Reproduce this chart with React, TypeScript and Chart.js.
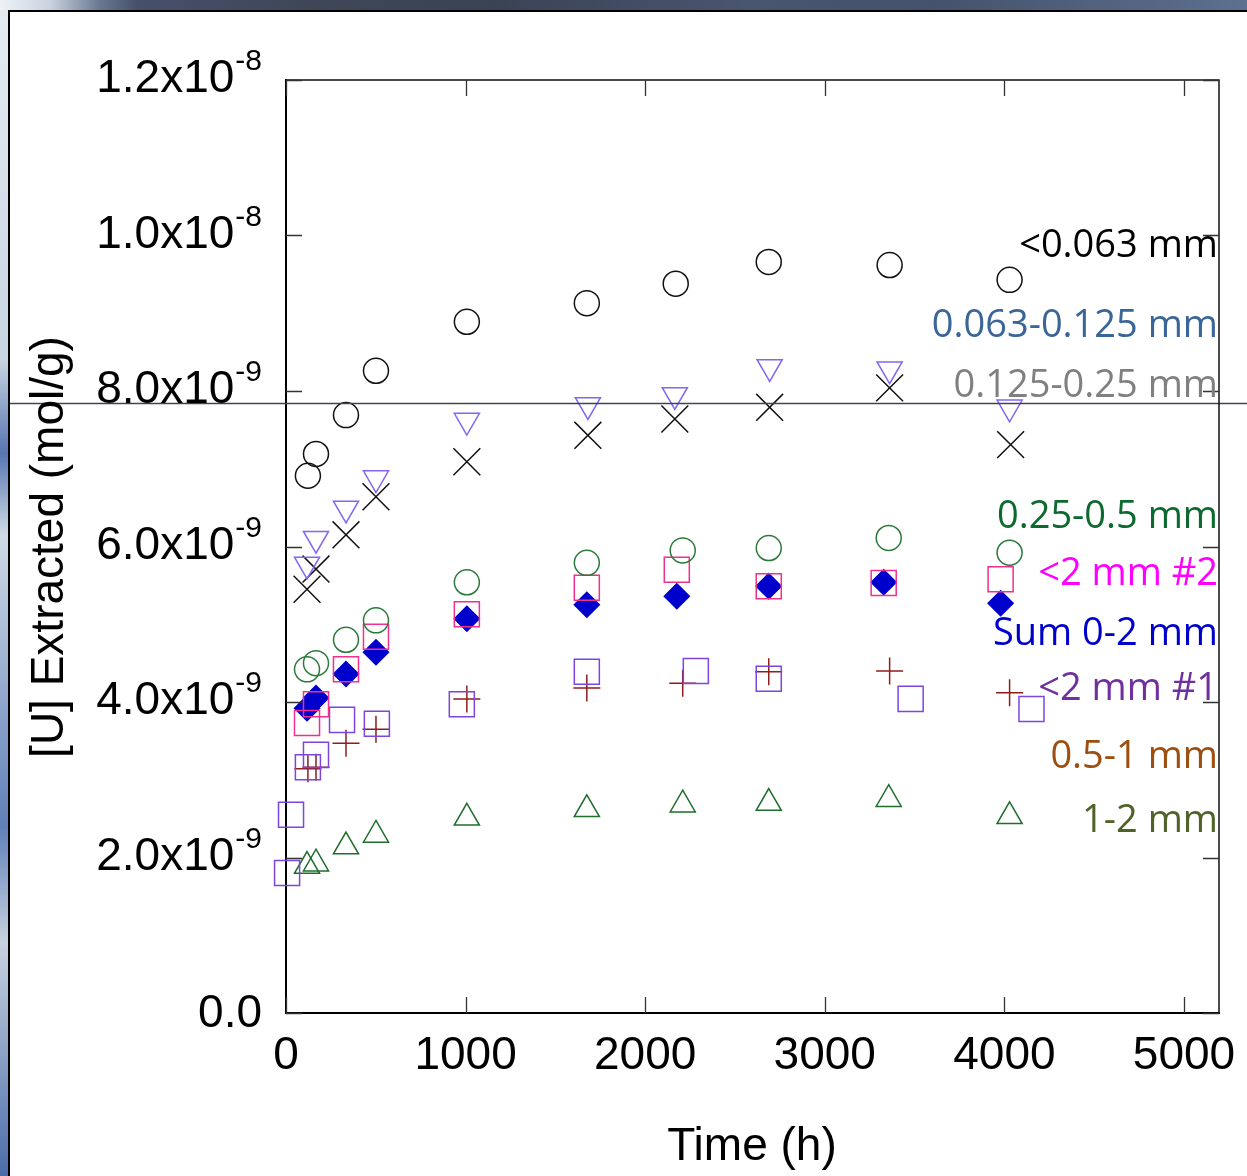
import React, { useEffect, useRef } from "react";
import { Chart, registerables } from "chart.js";
Chart.register(...registerables);

// ---- axis ticks ----
const xTickValues = [0, 1000, 2000, 3000, 4000, 5000];
const yTickValues = [0, 2, 4, 6, 8, 10, 12]; // units of 1e-9 mol/g
const yTickMantissa = ["0.0", "2.0x10", "4.0x10", "6.0x10", "8.0x10", "1.0x10", "1.2x10"];
const yTickExponent = ["", "-9", "-9", "-9", "-9", "-8", "-8"];

// ---- series (time in h, [U] in 1e-9 mol/g) ----
const tLt063 = [122, 167, 334, 501, 1007, 1675, 2170, 2688, 3361, 4029];
const uLt063 = [6.91, 7.19, 7.69, 8.26, 8.89, 9.13, 9.38, 9.66, 9.62, 9.43];

const t063to125 = [117, 167, 334, 501, 1007, 1681, 2165, 2693, 3361, 4029];
const u063to125 = [5.77, 6.1, 6.49, 6.88, 7.62, 7.82, 7.95, 8.31, 8.28, 7.79];

const t125to25 = [117, 167, 334, 501, 1007, 1681, 2165, 2693, 3361, 4035];
const u125to25 = [5.45, 5.71, 6.15, 6.64, 7.09, 7.43, 7.64, 7.79, 8.04, 7.31];

const t25to5 = [117, 167, 334, 501, 1007, 1675, 2209, 2688, 3356, 4029];
const u25to5 = [4.42, 4.5, 4.8, 5.05, 5.54, 5.79, 5.95, 5.98, 6.11, 5.92];

const tLt2n2 = [117, 167, 334, 501, 1007, 1675, 2176, 2688, 3328, 3979];
const uLt2n2 = [3.73, 3.97, 4.42, 4.84, 5.13, 5.47, 5.7, 5.49, 5.53, 5.58];

const tSum = [117, 167, 334, 501, 1007, 1675, 2176, 2688, 3328, 3979];
const uSum = [3.92, 4.05, 4.36, 4.64, 5.07, 5.25, 5.36, 5.49, 5.54, 5.27];

const tLt2n1 = [6, 28, 122, 167, 312, 506, 979, 1675, 2282, 2688, 3478, 4151];
const uLt2n1 = [1.8, 2.55, 3.16, 3.32, 3.77, 3.72, 3.97, 4.39, 4.4, 4.3, 4.04, 3.91];

const t05to1 = [122, 167, 334, 501, 1007, 1675, 2209, 2688, 3361, 4029];
const u05to1 = [3.14, 3.16, 3.47, 3.65, 4.04, 4.18, 4.24, 4.39, 4.4, 4.12];

const t1to2 = [117, 167, 334, 501, 1007, 1675, 2209, 2688, 3356, 4029];
const u1to2 = [1.89, 1.92, 2.14, 2.29, 2.51, 2.62, 2.68, 2.7, 2.75, 2.53];

// ---- right-side labels ----
const labelTexts = ["<0.063 mm", "0.063-0.125 mm", "0.125-0.25 mm", "0.25-0.5 mm", "<2 mm #2", "Sum 0-2 mm", "<2 mm #1", "0.5-1 mm", "1-2 mm"];
const labelColors = ["#000000", "#3a6598", "#808080", "#0c6a2e", "#ff00ff", "#0000cc", "#7030a0", "#9c4f10", "#4f6228"];
const labelBaselines = [9.72, 8.69, 7.92, 6.24, 5.5, 4.73, 4.03, 3.15, 2.33];

const ARIAL = "'Liberation Sans', Arial, sans-serif";
const CALIBRI = "'Open Sans', 'Noto Sans', sans-serif";

const pts = (xs: number[], ys: number[]) => xs.map((x, i) => ({ x, y: ys[i] }));

const decorPlugin = {
  id: "decor",
  afterDraw(chart: any) {
    const { ctx, chartArea: a, scales } = chart;
    const xs = scales.x;
    const ys = scales.y;
    ctx.save();
    // artifact horizontal line from the source picture
    ctx.strokeStyle = "#3d4455";
    ctx.lineWidth = 1.5;
    const ly = Math.round(ys.getPixelForValue(7.85)) + 0.5;
    ctx.beginPath();
    ctx.moveTo(10, ly);
    ctx.lineTo(chart.width, ly);
    ctx.stroke();

    // top & right frame
    ctx.strokeStyle = "#111";
    ctx.lineWidth = 1.5;
    ctx.beginPath();
    ctx.moveTo(a.left, a.top);
    ctx.lineTo(a.right, a.top);
    ctx.lineTo(a.right, a.bottom);
    ctx.stroke();

    // inner ticks
    ctx.strokeStyle = "#333";
    ctx.lineWidth = 1.3;
    const TL = 16;
    ctx.beginPath();
    xTickValues.forEach((v) => {
      const px = Math.round(xs.getPixelForValue(v)) + 0.5;
      ctx.moveTo(px, a.bottom);
      ctx.lineTo(px, a.bottom - TL);
      ctx.moveTo(px, a.top);
      ctx.lineTo(px, a.top + TL);
    });
    yTickValues.forEach((v) => {
      const py = Math.round(ys.getPixelForValue(v)) + 0.5;
      ctx.moveTo(a.left, py);
      ctx.lineTo(a.left + TL, py);
      ctx.moveTo(a.right, py);
      ctx.lineTo(a.right - TL, py);
    });
    ctx.stroke();

    // y tick labels with superscript exponents
    ctx.fillStyle = "#000";
    ctx.textBaseline = "alphabetic";
    const rightEdge = 262;
    yTickValues.forEach((v, i) => {
      const py = ys.getPixelForValue(v);
      const exp = yTickExponent[i];
      if (!exp) {
        ctx.font = `46px ${ARIAL}`;
        ctx.textAlign = "right";
        ctx.fillText(yTickMantissa[i], rightEdge, py + 14);
        return;
      }
      ctx.font = `30px ${ARIAL}`;
      ctx.textAlign = "right";
      const ew = ctx.measureText(exp).width;
      ctx.fillText(exp, rightEdge, py - 10);
      ctx.font = `46px ${ARIAL}`;
      ctx.fillText(yTickMantissa[i], rightEdge - ew - 1, py + 12);
    });

    // axis titles
    ctx.font = `46px ${ARIAL}`;
    ctx.textAlign = "center";
    ctx.textBaseline = "alphabetic";
    ctx.fillText("Time (h)", (xs.getPixelForValue(0) + xs.getPixelForValue(5000)) / 2 + 17, 1160);
    ctx.save();
    ctx.translate(50, 547);
    ctx.rotate(-Math.PI / 2);
    ctx.textBaseline = "middle";
    ctx.fillText("[U] Extracted (mol/g)", 0, 0);
    ctx.restore();

    // series labels
    ctx.font = `38px ${CALIBRI}`;
    ctx.textAlign = "right";
    ctx.textBaseline = "alphabetic";
    labelTexts.forEach((t, i) => {
      ctx.fillStyle = labelColors[i];
      ctx.fillText(t, a.right - 1, ys.getPixelForValue(labelBaselines[i]));
    });
    ctx.restore();
  },
};

export default function App() {
  const ref = useRef<HTMLCanvasElement>(null);
  useEffect(() => {
    const none = "rgba(0,0,0,0)";
    const ds = (label: string, data: any, style: string, radius: number, color: string, fill: string, rot = 0) => ({
      label,
      data,
      showLine: false,
      clip: false,
      pointStyle: style,
      pointRadius: radius,
      pointHoverRadius: radius,
      pointBorderColor: color,
      pointBackgroundColor: fill,
      borderColor: color,
      backgroundColor: fill,
      pointBorderWidth: 1.5,
      pointRotation: rot,
    });
    const chart = new Chart(ref.current as HTMLCanvasElement, {
      type: "scatter",
      data: {
        datasets: [
          ds("<0.063 mm", pts(tLt063, uLt063), "circle", 12.5, "#111111", none),
          ds("0.063-0.125 mm", pts(t063to125, u063to125), "triangle", 14.5, "#8466f0", none, 180),
          ds("0.125-0.25 mm", pts(t125to25, u125to25), "crossRot", 19, "#111111", none),
          ds("0.25-0.5 mm", pts(t25to5, u25to5), "circle", 12.5, "#2a7a3a", none),
          ds("<2 mm #2", pts(tLt2n2, uLt2n2), "rect", 17.7, "#f0308c", none),
          ds("Sum 0-2 mm", pts(tSum, uSum), "rectRot", 12.5, "#0000cc", "#0000cc"),
          ds("<2 mm #1", pts(tLt2n1, uLt2n1), "rect", 17.7, "#7d45e0", none),
          ds("0.5-1 mm", pts(t05to1, u05to1), "cross", 13.5, "#901c1c", none),
          ds("1-2 mm", pts(t1to2, u1to2), "triangle", 14.5, "#1f6e2c", none),
        ],
      },
      options: {
        responsive: false,
        animation: false,
        devicePixelRatio: 1,
        layout: { padding: { left: 0, top: 80, right: 28, bottom: 0 } },
        plugins: { legend: { display: false }, tooltip: { enabled: false } },
        scales: {
          x: {
            type: "linear",
            min: 0,
            max: 5195,
            afterBuildTicks: (s: any) => {
              s.ticks = xTickValues.map((value) => ({ value }));
            },
            afterFit: (s: any) => {
              s.height = 163;
              s.paddingLeft = 0;
              s.paddingRight = 0;
            },
            grid: { drawOnChartArea: false, drawTicks: false },
            border: { display: true, color: "#000", width: 2 },
            ticks: {
              padding: 16,
              color: "#000",
              font: { family: ARIAL, size: 46 },
              maxRotation: 0,
              autoSkip: false,
              callback: (v: any) => String(v),
            },
          },
          y: {
            type: "linear",
            min: 0,
            max: 12,
            afterBuildTicks: (s: any) => {
              s.ticks = yTickValues.map((value) => ({ value }));
            },
            afterFit: (s: any) => {
              s.width = 286;
              s.paddingTop = 0;
              s.paddingBottom = 0;
            },
            grid: { drawOnChartArea: false, drawTicks: false },
            border: { display: true, color: "#000", width: 2 },
            ticks: { display: false },
          },
        },
      },
      plugins: [decorPlugin],
    } as any);
    return () => chart.destroy();
  }, []);
  return (
    <div style={{ position: "fixed", left: 0, top: 0, width: 1247, height: 1176, background: "#fff", overflow: "hidden" }}>
      <div
        style={{
          position: "absolute",
          left: 0,
          top: 0,
          width: 1247,
          height: 10,
          background:
            "linear-gradient(to right, #eef2f6 0%, #c9d3df 4%, #6a7890 8%, #47506a 11%, #3e4658 25%, #3a4356 40%, #4a556e 60%, #45526c 75%, #5d7090 100%)",
        }}
      />
      <div
        style={{
          position: "absolute",
          left: 0,
          top: 10,
          width: 8,
          height: 1166,
          background:
            "linear-gradient(to bottom, #e6ebf1 0%, #c8d4e2 30%, #5676b0 38%, #d0dae6 45%, #6080b8 70%, #c8d2e0 80%, #4a6ca8 100%)",
        }}
      />
      <div
        style={{
          position: "absolute",
          left: 8,
          top: 10,
          width: 1239,
          height: 1166,
          borderLeft: "2px solid #000",
          borderTop: "2px solid #000",
          boxSizing: "border-box",
        }}
      />
      <canvas ref={ref} width={1247} height={1176} style={{ position: "absolute", left: 0, top: 0, width: 1247, height: 1176 }} />
    </div>
  );
}
